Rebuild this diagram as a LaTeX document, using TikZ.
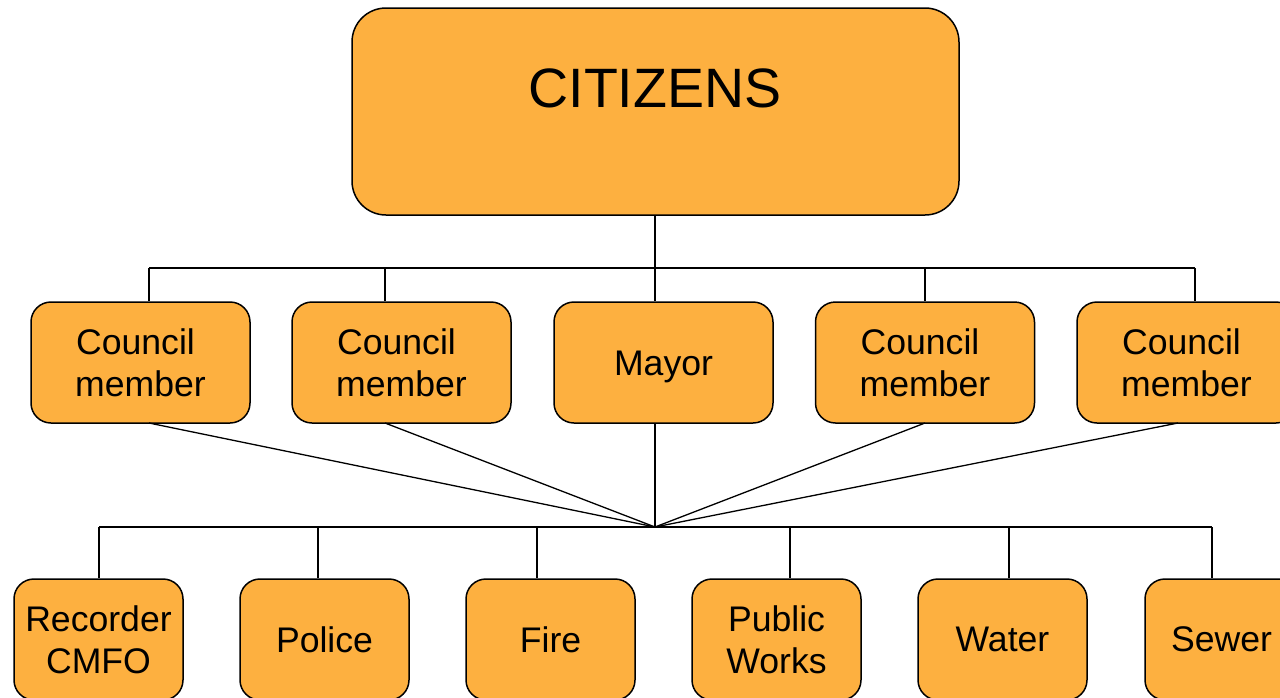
\documentclass[tikz,border=0pt]{standalone}
\usepackage{fontspec}
\setmainfont{Liberation Sans}
\definecolor{boxfill}{HTML}{FDB040}
\newcommand{\cmtext}{Council\kern10pt\\member}
\begin{document}
\begin{tikzpicture}[x=1pt,y=-1pt,
  box/.style={draw=black,line width=1.5pt,fill=boxfill,rounded corners=20pt,inner sep=0pt,align=center,font=\fontsize{35.6}{42}\selectfont},
  council/.style={box,minimum width=219pt,minimum height=121pt},
  dept/.style={box,minimum width=169pt,minimum height=121pt},
  conn/.style={draw=black,line width=1.3pt}]
\useasboundingbox (0,0) rectangle (1280,697);
\node[box,rounded corners=34pt,minimum width=607pt,minimum height=207pt] (cit) at (655.5,111.5) {};
\node[font=\fontsize{55.5}{60}\selectfont] (cittext) at (655,88) {CITIZENS};
% council row
\node[council] (c1) at (140.5,362.5) {\cmtext};
\node[council] (c2) at (401.5,362.5) {\cmtext};
\node[council,text height=34pt,text depth=7.5pt] (mayor) at (663.5,362.5) {Mayor};
\node[council] (c4) at (925,362.5) {\cmtext};
\node[council] (c5) at (1186.5,362.5) {\cmtext};
% departments
\node[dept] (d1) at (98.5,639.5) {Recorder\\CMFO};
\node[dept] (d2) at (324.5,639.5) {Police};
\node[dept] (d3) at (550.5,639.5) {Fire};
\node[dept] (d4) at (776.5,639.5) {Public\\Works};
\node[dept] (d5) at (1002.5,639.5) {Water};
\node[dept] (d6) at (1229.5,639.5) {Sewer\hspace{16pt}};
% top bus
\coordinate (tb) at (655,268);
\coordinate (t1) at (149,268);
\coordinate (t2) at (385,268);
\coordinate (t4) at (925,268);
\coordinate (t5) at (1195,268);
\coordinate (hub) at (655,527);
\coordinate (b1) at (99,527);
\coordinate (b2) at (318,527);
\coordinate (b3) at (537,527);
\coordinate (b4) at (790,527);
\coordinate (b5) at (1009,527);
\coordinate (b6) at (1212,527);
\draw[conn] (cit.south -| tb) -- (tb);
\draw[conn] (t1) -- (t5);
\draw[conn] (t1) -- (c1.north -| t1);
\draw[conn] (t2) -- (c2.north -| t2);
\draw[conn] (tb) -- (mayor.north -| tb);
\draw[conn] (t4) -- (c4.north -| t4);
\draw[conn] (t5) -- (c5.north -| t5);
% converging lines
\coordinate (s1) at (149,423);
\coordinate (s2) at (385,423);
\coordinate (s4) at (925,423);
\coordinate (s5) at (1178,423);
\draw[conn] (s1) -- (hub);
\draw[conn] (s2) -- (hub);
\draw[conn] (mayor.south -| hub) -- (hub);
\draw[conn] (s4) -- (hub);
\draw[conn] (s5) -- (hub);
% bottom bus
\draw[conn] (b1) -- (b6);
\draw[conn] (b1) -- (d1.north -| b1);
\draw[conn] (b2) -- (d2.north -| b2);
\draw[conn] (b3) -- (d3.north -| b3);
\draw[conn] (b4) -- (d4.north -| b4);
\draw[conn] (b5) -- (d5.north -| b5);
\draw[conn] (b6) -- (d6.north -| b6);
\end{tikzpicture}
\end{document}
